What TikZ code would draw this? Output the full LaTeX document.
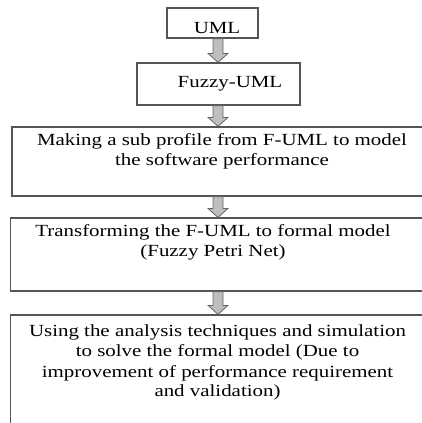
\documentclass[tikz,border=0pt]{standalone}
\usepackage{fontspec}
\setmainfont[FakeStretch=1.23]{Liberation Serif}
\usetikzlibrary{calc}
\definecolor{boxline}{HTML}{555555}
\definecolor{arrfill}{HTML}{BEBEBE}
\definecolor{arrline}{HTML}{666666}
\tikzset{
  stepbox/.style={draw=boxline, line width=1.2pt, rectangle, inner sep=0pt, fill=white},
  boxtext/.style={font=\fontsize{17}{20}\selectfont, align=center, inner sep=0pt, text=black},
  barrow/.style={draw=arrline, fill=arrfill, line width=0.8pt, line join=miter}
}
\newcommand\blockarrow[2]{%
  \path[barrow] let \p1=(#1.south), \p2=(#2.north) in
    (213pt,\y1) -- (213pt,\y2+9pt) -- (208pt,\y2+9pt) -- (218pt,\y2) --
    (228pt,\y2+9pt) -- (223pt,\y2+9pt) -- (223pt,\y1) -- cycle;}
\begin{document}
\begin{tikzpicture}[x=1pt,y=-1pt]
\useasboundingbox (0,0) rectangle (422,423);
\clip (0,0) rectangle (422,423);
% boxes
\node[stepbox, minimum width=91pt, minimum height=30pt] (uml) at (212.5,23) {};
\node[stepbox, minimum width=163pt, minimum height=42pt] (fuml) at (218.5,84) {};
\node[stepbox, minimum width=418pt, minimum height=69pt] (prof) at (221,161.5) {};
\node[stepbox, minimum width=420pt, minimum height=73pt] (trans) at (220.5,254.5) {};
\node[stepbox, minimum width=420pt, minimum height=125pt] (anal) at (220.5,377.5) {};
% texts
\node[boxtext, anchor=base] (tuml) at (217,33) {UML};
\node[boxtext, anchor=base] (tfuml) at (230,87) {Fuzzy-UML};
\node[boxtext, anchor=north] (tprof) at (222,133) {Making a sub profile from F-UML to model\\the software performance};
\node[boxtext, anchor=north] (ttrans) at (213,224) {Transforming the F-UML to formal model\\(Fuzzy Petri Net)};
\node[boxtext, anchor=north] (tanal) at (217.5,325) {Using the analysis techniques and simulation\\to solve the formal model (Due to\\improvement of performance requirement\\and validation)};
% arrows
\blockarrow{uml}{fuml}
\blockarrow{fuml}{prof}
\blockarrow{prof}{trans}
\blockarrow{trans}{anal}
\end{tikzpicture}
\end{document}
